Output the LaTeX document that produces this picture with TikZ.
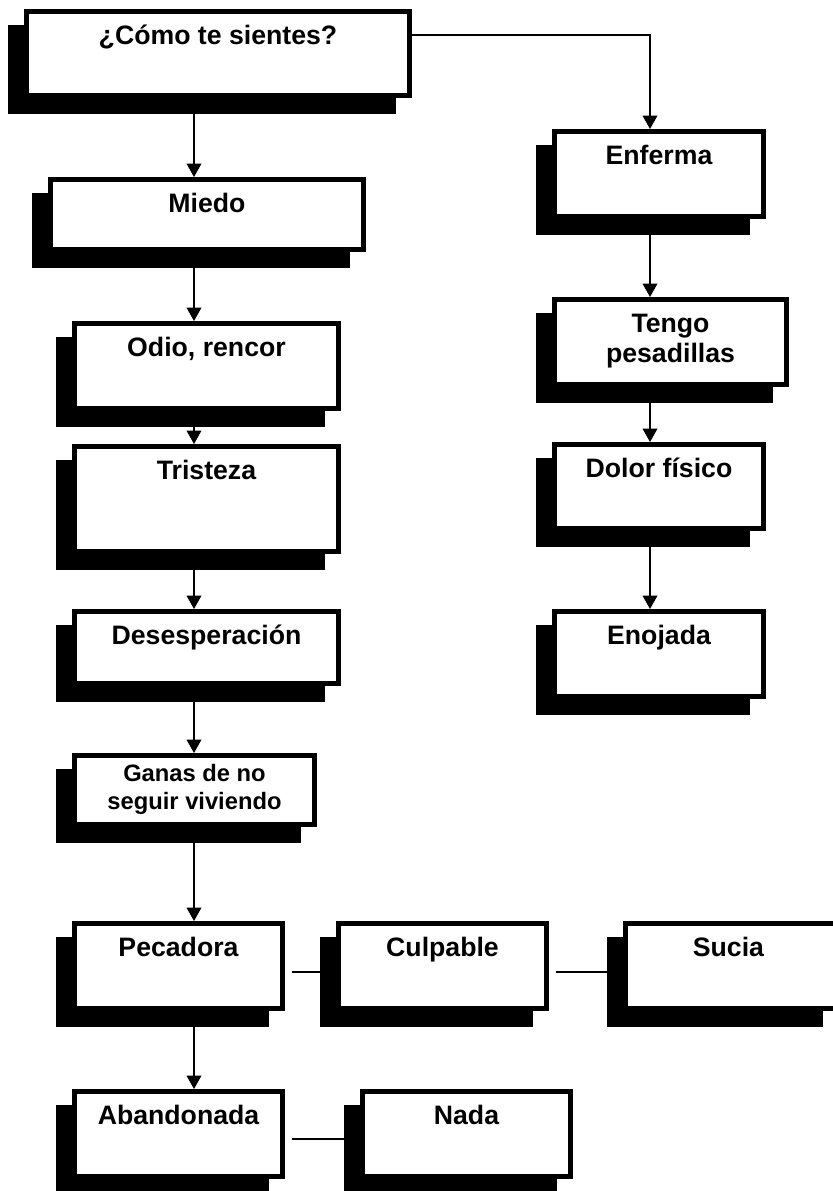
\documentclass[tikz,border=0pt]{standalone}
\usepackage{fontspec}
\setmainfont{Liberation Sans}
\usepackage{tikz}
\usetikzlibrary{shadows}
\usetikzlibrary{arrows.meta}

\tikzset{
  caja/.style={draw=black, line width=3.75pt, fill=white, inner sep=0pt,
    drop shadow={shadow xshift=-12pt, shadow yshift=-12pt, opacity=1,
      fill=black, draw=black, line width=3.75pt}},
  rotulo/.style={anchor=base, yshift=-26.3pt, inner sep=0pt, align=center,
    font=\fontsize{20}{22.5}\selectfont\bfseries},
  flecha/.style={-{Triangle[width=11pt,length=10pt]}, line width=1pt},
  enlace/.style={line width=1pt}
}

\begin{document}
\begin{tikzpicture}[x=0.75pt,y=-0.75pt]
\useasboundingbox (0,0) rectangle (832,1191);

% columna izquierda
\node[caja, minimum width=287.25pt, minimum height=63pt,
  label={[rotulo]north:¿Cómo te sientes?}] (como) at (218,53.5) {};
\node[caja, minimum width=234.75pt, minimum height=52.5pt,
  label={[rotulo]north:Miedo}] (miedo) at (207,214.5) {};
\node[caja, minimum width=198pt, minimum height=63.75pt,
  label={[rotulo]north:Odio, rencor}] (odio) at (206.5,366) {};
\node[caja, minimum width=198pt, minimum height=78.75pt,
  label={[rotulo]north:Tristeza}] (tristeza) at (206.5,499) {};
\node[caja, minimum width=198pt, minimum height=54pt,
  label={[rotulo]north:Desesperación}] (desesperacion) at (206.5,647.5) {};
\node[caja, minimum width=180pt, minimum height=51.75pt,
  label={[rotulo, yshift=-16.3pt, font=\fontsize{17.8}{21}\selectfont\bfseries]north:{Ganas de no\\seguir viviendo}}] (ganas) at (194.5,790) {};
\node[caja, minimum width=156pt, minimum height=63.75pt,
  label={[rotulo]north:Pecadora}] (pecadora) at (178.5,966) {};
\node[caja, minimum width=156pt, minimum height=63.75pt,
  label={[rotulo]north:Culpable}] (culpable) at (442.5,966) {};
\node[caja, minimum width=158.25pt, minimum height=63.75pt,
  label={[rotulo, xshift=-1.9pt]north:Sucia}] (sucia) at (731,966) {};
\node[caja, minimum width=156pt, minimum height=63.75pt,
  label={[rotulo]north:Abandonada}] (abandonada) at (178.5,1134) {};
\node[caja, minimum width=156pt, minimum height=63.75pt,
  label={[rotulo]north:Nada}] (nada) at (466.5,1134) {};

% columna derecha
\node[caja, minimum width=156.75pt, minimum height=63.75pt,
  label={[rotulo]north:Enferma}] (enferma) at (659,174) {};
\node[caja, minimum width=174pt, minimum height=63.75pt,
  label={[rotulo, yshift=-22.5pt]north:{Tengo\\pesadillas}}] (tengo) at (670.5,342) {};
\node[caja, minimum width=156.75pt, minimum height=63pt,
  label={[rotulo]north:Dolor físico}] (dolor) at (659,486.5) {};
\node[caja, minimum width=156.75pt, minimum height=63.75pt,
  label={[rotulo]north:Enojada}] (enojada) at (659,654) {};

\coordinate (colA) at (194,0);
\coordinate (colB) at (650,0);

\foreach \a/\b in {como/miedo, miedo/odio, odio/tristeza, tristeza/desesperacion,
  desesperacion/ganas, ganas/pecadora, pecadora/abandonada}
  \draw[flecha] (\a.south -| colA) -- (\b.north -| colA);
\foreach \a/\b in {enferma/tengo, tengo/dolor, dolor/enojada}
  \draw[flecha] (\a.south -| colB) -- (\b.north -| colB);
\draw[flecha] ([yshift=13.9pt]como.east) -| (enferma.north -| colB);

\draw[enlace] ([xshift=5pt,yshift=-4.5pt]pecadora.east) -- ([yshift=-4.5pt]culpable.west);
\draw[enlace] ([xshift=5pt,yshift=-4.5pt]culpable.east) -- ([yshift=-4.5pt]sucia.west);
\draw[enlace] ([xshift=5pt,yshift=-3.75pt]abandonada.east) -- ([yshift=-3.75pt]nada.west);
\end{tikzpicture}
\end{document}
